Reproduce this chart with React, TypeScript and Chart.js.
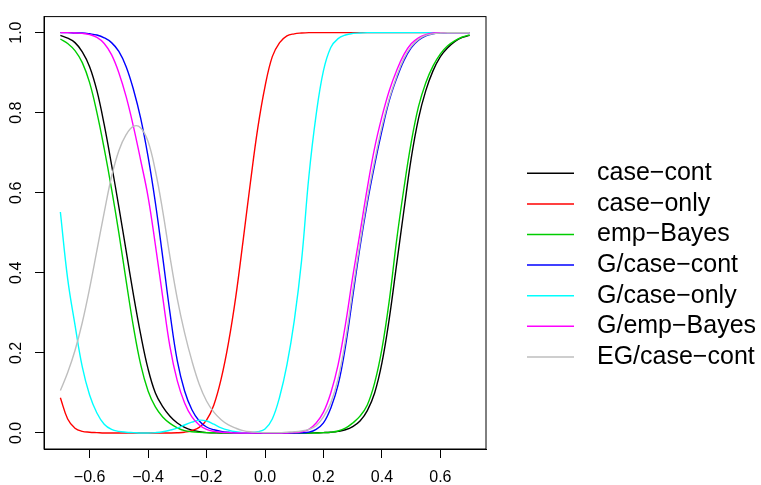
import { useEffect, useRef } from 'react';
import { Chart, registerables } from 'chart.js';

Chart.register(...registerables);

// Effect size (x) grid, step 0.025
const deltaValues = [
  -0.7, -0.675, -0.65, -0.625, -0.6, -0.575, -0.55, -0.525, -0.5, -0.475,
  -0.45, -0.425, -0.4, -0.375, -0.35, -0.325, -0.3, -0.275, -0.25, -0.225,
  -0.2, -0.175, -0.15, -0.125, -0.1, -0.075, -0.05, -0.025, 0, 0.025,
  0.05, 0.075, 0.1, 0.125, 0.15, 0.175, 0.2, 0.225, 0.25, 0.275,
  0.3, 0.325, 0.35, 0.375, 0.4, 0.425, 0.45, 0.475, 0.5, 0.525,
  0.55, 0.575, 0.6, 0.625, 0.65, 0.675, 0.7,
];

// Power curves
const caseCont = [
  0.993, 0.986, 0.975, 0.952, 0.915, 0.855, 0.77, 0.67, 0.565, 0.455,
  0.345, 0.245, 0.16, 0.1, 0.066, 0.042, 0.025, 0.014, 0.007, 0.003,
  0.001, 0.0005, 0, 0, 0, 0, 0, 0, 0, 0,
  0, 0, 0, 0, 0, 0.0005, 0.001, 0.002, 0.004, 0.008,
  0.016, 0.03, 0.056, 0.1, 0.175, 0.285, 0.42, 0.555, 0.685, 0.785,
  0.855, 0.905, 0.94, 0.962, 0.978, 0.988, 0.993,
];
const caseOnly = [
  0.088, 0.035, 0.012, 0.004, 0.002, 0.001, 0, 0, 0, 0,
  0, 0, 0, 0, 0, 0, 0.0005, 0.002, 0.006, 0.014,
  0.032, 0.07, 0.135, 0.225, 0.34, 0.48, 0.625, 0.76, 0.865, 0.94,
  0.975, 0.992, 0.997, 0.999, 1, 1, 1, 1, 1, 1,
  1, 1, 1, 1, 1, 1, 1, 1, 1, 1,
  1, 1, 1, 1, 1, 1, 1,
];
const empBayes = [
  0.984, 0.973, 0.955, 0.925, 0.875, 0.8, 0.71, 0.61, 0.5, 0.38,
  0.265, 0.17, 0.105, 0.065, 0.04, 0.024, 0.013, 0.006, 0.003, 0.0015,
  0.001, 0.0005, 0, 0, 0, 0, 0, 0, 0, 0,
  0, 0, 0, 0, 0, 0, 0.001, 0.002, 0.005, 0.012,
  0.025, 0.042, 0.07, 0.125, 0.21, 0.33, 0.48, 0.61, 0.725, 0.815,
  0.875, 0.917, 0.947, 0.967, 0.98, 0.989, 0.994,
];
const gCaseCont = [
  1, 1, 0.999, 0.999, 0.997, 0.994, 0.987, 0.975, 0.953, 0.915,
  0.858, 0.785, 0.69, 0.575, 0.44, 0.3, 0.18, 0.105, 0.058, 0.03,
  0.015, 0.008, 0.004, 0.002, 0.001, 0, 0, 0, 0, 0,
  0, 0, 0, 0.0005, 0.002, 0.009, 0.025, 0.062, 0.12, 0.215,
  0.34, 0.465, 0.575, 0.67, 0.755, 0.83, 0.885, 0.93, 0.962, 0.981,
  0.992, 0.997, 0.999, 1, 1, 1, 1,
];
const gCaseOnly = [
  0.552, 0.385, 0.27, 0.165, 0.095, 0.05, 0.022, 0.009, 0.004, 0.002,
  0.001, 0, 0, 0.001, 0.003, 0.007, 0.012, 0.02, 0.027, 0.032,
  0.03, 0.022, 0.013, 0.007, 0.003, 0.001, 0.001, 0.003, 0.01, 0.035,
  0.09, 0.17, 0.28, 0.43, 0.64, 0.795, 0.905, 0.963, 0.985, 0.994,
  0.998, 0.999, 1, 1, 1, 1, 1, 1, 1, 1,
  1, 1, 1, 1, 1, 1, 1,
];
const gEmpBayes = [
  1, 1, 0.999, 0.998, 0.995, 0.988, 0.973, 0.945, 0.9, 0.84,
  0.765, 0.68, 0.59, 0.47, 0.34, 0.215, 0.13, 0.075, 0.04, 0.02,
  0.009, 0.004, 0.002, 0.001, 0, 0, 0, 0, 0, 0,
  0, 0, 0.001, 0.003, 0.009, 0.025, 0.052, 0.1, 0.17, 0.27,
  0.39, 0.5, 0.612, 0.712, 0.79, 0.855, 0.905, 0.945, 0.972, 0.987,
  0.995, 0.999, 1, 1, 1, 1, 1,
];
const egCaseCont = [
  0.106, 0.151, 0.206, 0.276, 0.361, 0.456, 0.551, 0.64, 0.705, 0.745,
  0.766, 0.762, 0.728, 0.655, 0.555, 0.44, 0.335, 0.25, 0.18, 0.122,
  0.08, 0.052, 0.033, 0.02, 0.012, 0.006, 0.003, 0.002, 0.001, 0.001,
  0.001, 0.002, 0.003, 0.005, 0.009, 0.018, 0.04, 0.075, 0.135, 0.23,
  0.355, 0.475, 0.585, 0.68, 0.765, 0.835, 0.89, 0.935, 0.965, 0.983,
  0.993, 0.997, 0.999, 1, 1, 1, 1,
];

const seriesLabels = [
  'case\u2212cont',
  'case\u2212only',
  'emp\u2212Bayes',
  'G/case\u2212cont',
  'G/case\u2212only',
  'G/emp\u2212Bayes',
  'EG/case\u2212cont',
];
const seriesValues = [caseCont, caseOnly, empBayes, gCaseCont, gCaseOnly, gEmpBayes, egCaseCont];
const seriesColors = ['#000000', '#FF0000', '#00CD00', '#0000FF', '#00FFFF', '#FF00FF', '#BEBEBE'];

const xTicks = [-0.6, -0.4, -0.2, 0, 0.2, 0.4, 0.6];
const yTicks = [0, 0.2, 0.4, 0.6, 0.8, 1.0];

const FONT = '"Liberation Sans", Arial, Helvetica, sans-serif';

function fmt(v: number): string {
  const s = Math.abs(v).toFixed(1);
  return v < -1e-9 ? '\u2212' + s : s;
}

const framePlugin = {
  id: 'frameBox',
  afterDatasetsDraw(chart: any) {
    const { ctx, chartArea } = chart;
    ctx.save();
    ctx.strokeStyle = '#000';
    ctx.lineWidth = 1;
    ctx.strokeRect(chartArea.left, chartArea.top, chartArea.right - chartArea.left, chartArea.bottom - chartArea.top);
    ctx.restore();
  },
};

const legendPlugin = {
  id: 'rLegend',
  afterDraw(chart: any) {
    const { ctx, chartArea } = chart;
    const x0 = chartArea.right + 41;
    const y0 = 173.3;
    const step = 30.6;
    ctx.save();
    ctx.font = '25px ' + FONT;
    ctx.textBaseline = 'middle';
    ctx.textAlign = 'left';
    chart.data.datasets.forEach((ds: any, i: number) => {
      const y = y0 + i * step;
      ctx.strokeStyle = ds.borderColor;
      ctx.lineWidth = 1.5;
      ctx.beginPath();
      ctx.moveTo(x0, y);
      ctx.lineTo(x0 + 47, y);
      ctx.stroke();
      ctx.fillStyle = '#000';
      ctx.fillText(ds.label, x0 + 70, y);
    });
    ctx.restore();
  },
};

export default function App() {
  const ref = useRef<HTMLCanvasElement>(null);

  useEffect(() => {
    if (!ref.current) return;
    const datasets = seriesValues.map((vals, i) => ({
      label: seriesLabels[i],
      data: deltaValues.map((x, j) => ({ x, y: vals[j] })),
      borderColor: seriesColors[i],
      backgroundColor: seriesColors[i],
      borderWidth: 1.4,
      pointRadius: 0,
      fill: false,
      tension: 0.4,
      order: seriesValues.length - i,
    }));
    const chart = new Chart(ref.current, {
      type: 'line',
      data: { datasets },
      plugins: [framePlugin, legendPlugin],
      options: {
        animation: false,
        responsive: false,
        devicePixelRatio: 1,
        layout: { padding: { left: 0, top: 7, right: 275, bottom: 0 } },
        plugins: { legend: { display: false }, tooltip: { enabled: false } },
        scales: {
          x: {
            type: 'linear',
            min: -0.756,
            max: 0.756,
            afterBuildTicks: (s: any) => {
              s.ticks = xTicks.map((v) => ({ value: v }));
            },
            afterFit: (s: any) => {
              s.height = 36;
            },
            ticks: {
              autoSkip: false,
              maxRotation: 0,
              minRotation: 0,
              padding: 10,
              color: '#000',
              font: { size: 16, family: FONT },
              callback: (v: any) => fmt(Number(v)),
            },
            grid: { display: true, drawOnChartArea: false, drawTicks: true, tickLength: 9, color: '#000' },
            border: { display: true, color: '#000' },
          },
          y: {
            type: 'linear',
            min: -0.04,
            max: 1.04,
            afterBuildTicks: (s: any) => {
              s.ticks = yTicks.map((v) => ({ value: v }));
            },
            afterFit: (s: any) => {
              s.width = 44;
            },
            ticks: {
              autoSkip: false,
              minRotation: 90,
              maxRotation: 90,
              crossAlign: 'center',
              padding: 7,
              color: '#000',
              font: { size: 16, family: FONT },
              callback: (v: any) => fmt(Number(v)),
            },
            grid: { display: true, drawOnChartArea: false, drawTicks: true, tickLength: 9, color: '#000' },
            border: { display: true, color: '#000' },
          },
        },
      },
    });
    return () => chart.destroy();
  }, []);

  return (
    <div style={{ position: 'absolute', left: 0, top: 0, width: 761, height: 485, background: '#fff' }}>
      <canvas ref={ref} width={761} height={485} />
    </div>
  );
}
